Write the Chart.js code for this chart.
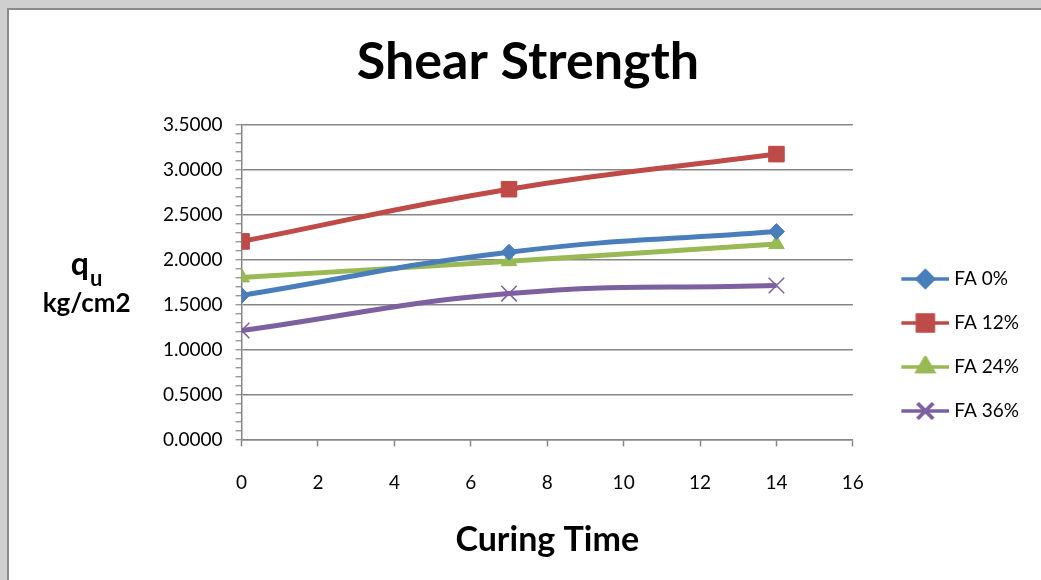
<!DOCTYPE html>
<html lang="en">
<head>
    <meta charset="UTF-8">
    <title>Shear Strength</title>
    <script src="https://cdn.jsdelivr.net/npm/chart.js"></script>
    <style>
        html, body {
            margin: 0;
            padding: 0;
            width: 1041px;
            height: 580px;
            overflow: hidden;
            background: #cfcfcf;
        }
        .frame {
            position: absolute;
            left: 7px;
            top: 8px;
            width: 1040px;
            height: 580px;
            background: #fff;
            border-left: 2px solid #8a8a8a;
            border-top: 2px solid #8a8a8a;
        }
        .chart-box {
            position: absolute;
            left: 0;
            top: 0;
            width: 1032px;
            height: 570px;
        }
    </style>
</head>
<body>
    <div class="frame">
        <div class="chart-box">
            <canvas id="shearChart"></canvas>
        </div>
    </div>

    <script>
        const curingDays = [0, 7, 14];
        const seriesNames = ['FA 0%', 'FA 12%', 'FA 24%', 'FA 36%'];
        const fa0 = [1.60, 2.08, 2.31];
        const fa12 = [2.20, 2.78, 3.17];
        const fa24 = [1.80, 1.98, 2.17];
        const fa36 = [1.21, 1.62, 1.71];
        const xTicks = [0, 2, 4, 6, 8, 10, 12, 14, 16];
        const yTicks = [0, 0.5, 1, 1.5, 2, 2.5, 3, 3.5];

        const colors = ['#4a7ebb', '#be4b48', '#98b954', '#7d60a0'];
        const markers = ['rectRot', 'rect', 'triangle', 'crossRot'];
        const markerSize = [8, 11, 9, 11];
        const FONT = 'Lato, "Open Sans", sans-serif';

        // line + marker picture for each legend entry (line sits in the right 48px)
        function legendIcon(i) {
            const c = document.createElement('canvas');
            c.width = 76;
            c.height = 22;
            const g = c.getContext('2d');
            g.strokeStyle = colors[i];
            g.fillStyle = colors[i];
            g.lineWidth = 3.5;
            g.beginPath();
            g.moveTo(28, 11);
            g.lineTo(76, 11);
            g.stroke();
            Chart.helpers.drawPoint(g, {
                pointStyle: markers[i],
                radius: markerSize[i],
                borderWidth: markers[i] === 'crossRot' ? 1.5 : 1,
                rotation: 0
            }, 52, 11);
            g.fill();
            g.stroke();
            return c;
        }

        const allValues = [fa0, fa12, fa24, fa36];
        const datasets = allValues.map((vals, i) => ({
            label: seriesNames[i],
            data: curingDays.map((d, k) => ({ x: d, y: vals[k] })),
            borderColor: colors[i],
            backgroundColor: colors[i],
            borderWidth: 5,
            tension: 0.45,
            pointStyle: markers[i],
            pointRadius: markerSize[i],
            pointHoverRadius: markerSize[i],
            pointBorderWidth: markers[i] === 'crossRot' ? 1.5 : 1,
            pointBorderColor: colors[i],
            pointBackgroundColor: colors[i]
        }));

        // horizontal "q u / kg/cm2" axis title on the left
        const yTitlePlugin = {
            id: 'yTitle',
            afterDraw(chart) {
                const ctx = chart.ctx;
                const area = chart.chartArea;
                const cx = area.left - 155;
                ctx.save();
                ctx.fillStyle = '#000';
                ctx.textBaseline = 'alphabetic';
                ctx.font = 'bold 32px ' + FONT;
                const qW = ctx.measureText('q').width;
                ctx.font = 'bold 22px ' + FONT;
                const uW = ctx.measureText('u').width;
                const x0 = cx - (qW + uW + 1) / 2;
                ctx.textAlign = 'left';
                ctx.font = 'bold 32px ' + FONT;
                ctx.fillText('q', x0, area.top + 151);
                ctx.font = 'bold 22px ' + FONT;
                ctx.fillText('u', x0 + qW + 1, area.top + 162);
                ctx.font = 'bold 26px ' + FONT;
                ctx.textAlign = 'center';
                ctx.fillText('kg/cm2', cx, area.top + 188);
                ctx.restore();
            }
        };

        const ctx = document.getElementById('shearChart').getContext('2d');
        new Chart(ctx, {
            type: 'line',
            data: { datasets: datasets },
            plugins: [yTitlePlugin],
            options: {
                responsive: true,
                maintainAspectRatio: false,
                animation: false,
                layout: {
                    padding: { left: 18, right: 12, top: 0, bottom: 20 }
                },
                plugins: {
                    title: {
                        display: true,
                        text: 'Shear Strength',
                        color: '#000',
                        font: { family: FONT, size: 52, weight: 'bold' },
                        padding: { top: 21, bottom: 31 }
                    },
                    legend: {
                        position: 'right',
                        align: 'center',
                        // empty title only pushes the entries down
                        title: {
                            display: true,
                            text: '',
                            font: { size: 10 },
                            padding: { top: 108, bottom: 0 }
                        },
                        labels: {
                            usePointStyle: true,
                            pointStyleWidth: 67,
                            color: '#000',
                            font: { family: FONT, size: 19 },
                            padding: 25,
                            generateLabels(chart) {
                                return chart.data.datasets.map((ds, i) => ({
                                    text: ds.label,
                                    pointStyle: legendIcon(i),
                                    fillStyle: colors[i],
                                    strokeStyle: colors[i],
                                    lineWidth: 0,
                                    hidden: false,
                                    datasetIndex: i,
                                    fontColor: '#000'
                                }));
                            }
                        }
                    },
                    tooltip: { enabled: false }
                },
                scales: {
                    x: {
                        type: 'linear',
                        min: 0,
                        max: 16,
                        afterBuildTicks(scale) {
                            scale.ticks = xTicks.map(v => ({ value: v }));
                        },
                        border: { color: '#868686', width: 1.5 },
                        grid: {
                            drawOnChartArea: false,
                            drawTicks: true,
                            tickLength: 7,
                            tickColor: '#868686',
                            tickWidth: 1.5
                        },
                        ticks: {
                            color: '#000',
                            font: { family: FONT, size: 19 },
                            padding: 25
                        },
                        title: {
                            display: true,
                            text: 'Curing Time',
                            color: '#000',
                            font: { family: FONT, size: 34, weight: 'bold' },
                            padding: { top: 0, bottom: 0 }
                        }
                    },
                    y: {
                        min: 0,
                        max: 3.5,
                        afterFit(scale) {
                            scale.width += 123;
                        },
                        ticks: {
                            stepSize: 0.1,
                            autoSkip: false,
                            color: '#000',
                            font: { family: FONT, size: 19 },
                            padding: 13,
                            callback(v) {
                                const t = Math.round(v * 10);
                                return t % 5 === 0 && yTicks.includes(t / 10) ? (t / 10).toFixed(4) : '';
                            }
                        },
                        border: { color: '#868686', width: 1.5 },
                        grid: {
                            color(c) {
                                return Math.round(c.tick.value * 10) % 5 === 0 ? '#868686' : 'rgba(0,0,0,0)';
                            },
                            lineWidth: 1.5,
                            tickLength: 6,
                            tickColor: '#868686',
                            tickWidth: 1.2
                        }
                    }
                }
            }
        });
    </script>
</body>
</html>
